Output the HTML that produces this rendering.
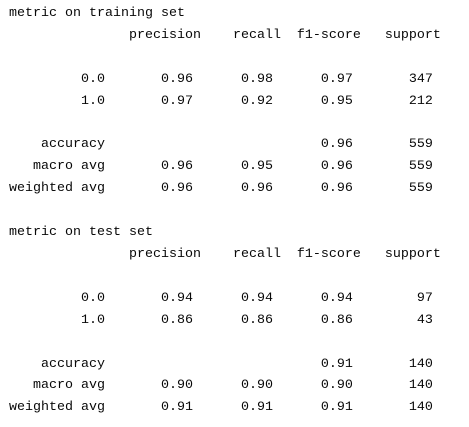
<!DOCTYPE html>
<html><head><meta charset="utf-8"><style>
html,body{margin:0;padding:0;background:#fff;width:469px;height:427px;overflow:hidden}
pre{margin:0;position:absolute;left:9px;top:3px;font-family:"Liberation Mono",monospace;font-size:13.33px;line-height:21.9px;color:#080808}
</style></head><body>
<pre>metric on training set
               precision    recall  f1-score   support

         0.0       0.96      0.98      0.97       347
         1.0       0.97      0.92      0.95       212

    accuracy                           0.96       559
   macro avg       0.96      0.95      0.96       559
weighted avg       0.96      0.96      0.96       559

metric on test set
               precision    recall  f1-score   support

         0.0       0.94      0.94      0.94        97
         1.0       0.86      0.86      0.86        43

    accuracy                           0.91       140
   macro avg       0.90      0.90      0.90       140
weighted avg       0.91      0.91      0.91       140</pre>
</body></html>
